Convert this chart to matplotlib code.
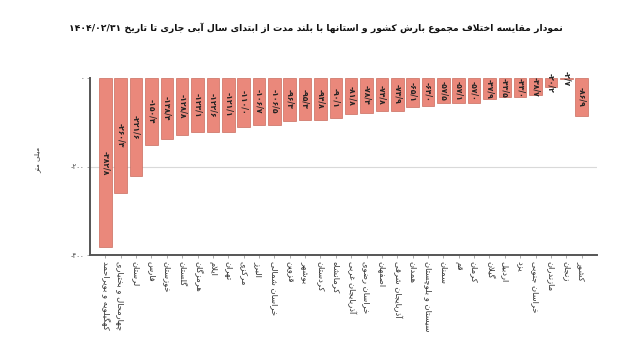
import matplotlib
matplotlib.use("Agg")
import matplotlib.pyplot as plt

plt.rcParams['font.family'] = ['DejaVu Sans']

title = "نمودار مقایسه اختلاف مجموع بارش کشور و استانها با بلند مدت از ابتدای سال آبی جاری تا تاریخ ۱۴۰۴/۰۲/۳۱"
ylabel = "میلی متر"
provinces = ["کهگیلویه و بویراحمد", "چهارمحال و بختیاری", "لرستان", "فارس", "خوزستان",
             "گلستان", "هرمزگان", "ایلام", "تهران", "مرکزی", "البرز", "خراسان شمالی",
             "قزوین", "بوشهر", "کردستان", "کرمانشاه", "آذربایجان غربی", "خراسان رضوی",
             "اصفهان", "آذربایجان شرقی", "همدان", "سیستان و بلوچستان", "سمنان", "قم",
             "کرمان", "گیلان", "اردبیل", "یزد", "خراسان جنوبی", "مازندران", "زنجان", "کشور"]
values = [-382.8, -260.3, -221.6, -150.4, -138.4, -128.8, -123.1, -122.6, -121.1, -110.0,
          -106.7, -106.5, -96.3, -95.3, -94.8, -90.1, -81.8, -78.4, -74.8, -73.9,
          -65.1, -64.0, -57.5, -57.1, -57.0, -47.9, -43.5, -43.0, -38.7, -20.2, -2.7, -86.9]
yticks = [0, -200, -400]

# ---- minimal Persian shaping (presentation forms) ----
FORMS = {
    'ا': ('\uFE8D', '\uFE8E'), 'آ': ('\uFE81', '\uFE82'),
    'ب': ('\uFE8F', '\uFE90', '\uFE91', '\uFE92'), 'پ': ('\uFB56', '\uFB57', '\uFB58', '\uFB59'),
    'ت': ('\uFE95', '\uFE96', '\uFE97', '\uFE98'), 'ث': ('\uFE99', '\uFE9A', '\uFE9B', '\uFE9C'),
    'ج': ('\uFE9D', '\uFE9E', '\uFE9F', '\uFEA0'), 'چ': ('\uFB7A', '\uFB7B', '\uFB7C', '\uFB7D'),
    'ح': ('\uFEA1', '\uFEA2', '\uFEA3', '\uFEA4'), 'خ': ('\uFEA5', '\uFEA6', '\uFEA7', '\uFEA8'),
    'د': ('\uFEA9', '\uFEAA'), 'ذ': ('\uFEAB', '\uFEAC'), 'ر': ('\uFEAD', '\uFEAE'),
    'ز': ('\uFEAF', '\uFEB0'), 'ژ': ('\uFB8A', '\uFB8B'),
    'س': ('\uFEB1', '\uFEB2', '\uFEB3', '\uFEB4'), 'ش': ('\uFEB5', '\uFEB6', '\uFEB7', '\uFEB8'),
    'ص': ('\uFEB9', '\uFEBA', '\uFEBB', '\uFEBC'), 'ض': ('\uFEBD', '\uFEBE', '\uFEBF', '\uFEC0'),
    'ط': ('\uFEC1', '\uFEC2', '\uFEC3', '\uFEC4'), 'ظ': ('\uFEC5', '\uFEC6', '\uFEC7', '\uFEC8'),
    'ع': ('\uFEC9', '\uFECA', '\uFECB', '\uFECC'), 'غ': ('\uFECD', '\uFECE', '\uFECF', '\uFED0'),
    'ف': ('\uFED1', '\uFED2', '\uFED3', '\uFED4'), 'ق': ('\uFED5', '\uFED6', '\uFED7', '\uFED8'),
    'ک': ('\uFB8E', '\uFB8F', '\uFB90', '\uFB91'), 'گ': ('\uFB92', '\uFB93', '\uFB94', '\uFB95'),
    'ل': ('\uFEDD', '\uFEDE', '\uFEDF', '\uFEE0'), 'م': ('\uFEE1', '\uFEE2', '\uFEE3', '\uFEE4'),
    'ن': ('\uFEE5', '\uFEE6', '\uFEE7', '\uFEE8'), 'و': ('\uFEED', '\uFEEE'),
    'ه': ('\uFEE9', '\uFEEA', '\uFEEB', '\uFEEC'), 'ی': ('\uFBFC', '\uFBFD', '\uFBFE', '\uFBFF'),
}
NUMCH = set('۰۱۲۳۴۵۶۷۸۹0123456789/.')


def shape(text):
    out = []
    chars = list(text)
    i = 0
    n = len(chars)
    while i < n:
        c = chars[i]
        if c not in FORMS:
            out.append(c)
            i += 1
            continue
        prev = chars[i - 1] if i > 0 else None
        join_prev = prev in FORMS and len(FORMS[prev]) == 4
        if c == 'ل' and i + 1 < n and chars[i + 1] == 'ا':
            out.append('\uFEFC' if join_prev else '\uFEFB')
            i += 2
            continue
        f = FORMS[c]
        nxt = chars[i + 1] if i + 1 < n else None
        join_next = len(f) == 4 and nxt in FORMS
        if join_prev and join_next:
            out.append(f[3])
        elif join_prev:
            out.append(f[1])
        elif join_next:
            out.append(f[2])
        else:
            out.append(f[0])
        i += 1
    s = ''.join(out)[::-1]
    res = []
    run = ''
    for ch in s:
        if ch in NUMCH:
            run += ch
        else:
            if run:
                res.append(run[::-1])
                run = ''
            res.append(ch)
    if run:
        res.append(run[::-1])
    return ''.join(res)


def fa_num(v):
    return f"{v:.1f}".translate(str.maketrans('0123456789.', '۰۱۲۳۴۵۶۷۸۹/'))


def fa_int(v):
    return str(int(v)).translate(str.maketrans('0123456789', '۰۱۲۳۴۵۶۷۸۹'))


fig = plt.figure(figsize=(6.4, 3.6), dpi=100)
ax = fig.add_axes([90 / 640, 1 - 255 / 360, (597 - 90) / 640, (255 - 78) / 360])

x = list(range(len(provinces)))
ax.bar(x, values, width=0.82, color='#EA887B', edgecolor='#C96C5E', linewidth=0.5, zorder=2)

for xi, v in zip(x, values):
    ax.text(xi, v / 2, fa_num(v), rotation=270, ha='center', va='center',
            fontsize=5.5, fontweight='bold', color='#222222', zorder=3)

ax.set_xlim(-1.0, len(provinces) - 0.0)
ax.set_ylim(-400, 0)
ax.set_yticks(yticks)
ax.set_yticklabels([fa_int(t) if t == 0 else '-' + fa_int(-t) for t in yticks],
                   fontsize=5, color='#444444')
ax.set_xticks(x)
ax.set_xticklabels([shape(p) for p in provinces], rotation=270, fontsize=6,
                   color='#333333', ha='center', va='top')
ax.tick_params(axis='x', length=2.5, width=0.5, color='#888888', pad=2)
ax.tick_params(axis='y', length=2, width=0.5, color='#888888', pad=2)

ax.axhline(-200, color='#D9D9D9', linewidth=0.8, zorder=1)
for s in ['top', 'right']:
    ax.spines[s].set_visible(False)
ax.spines['left'].set_color('#555555')
ax.spines['left'].set_linewidth(1.4)
ax.spines['bottom'].set_color('#555555')
ax.spines['bottom'].set_linewidth(1.4)

fig.text(38 / 640, 1 - 160 / 360, shape(ylabel), rotation=90, ha='center', va='center',
         fontsize=5, color='#333333')
fig.text(316 / 640, 1 - 28 / 360, shape(title), ha='center', va='center',
         fontsize=6.7, fontweight='bold', color='#111111')

fig.savefig('out.png', dpi=100)
